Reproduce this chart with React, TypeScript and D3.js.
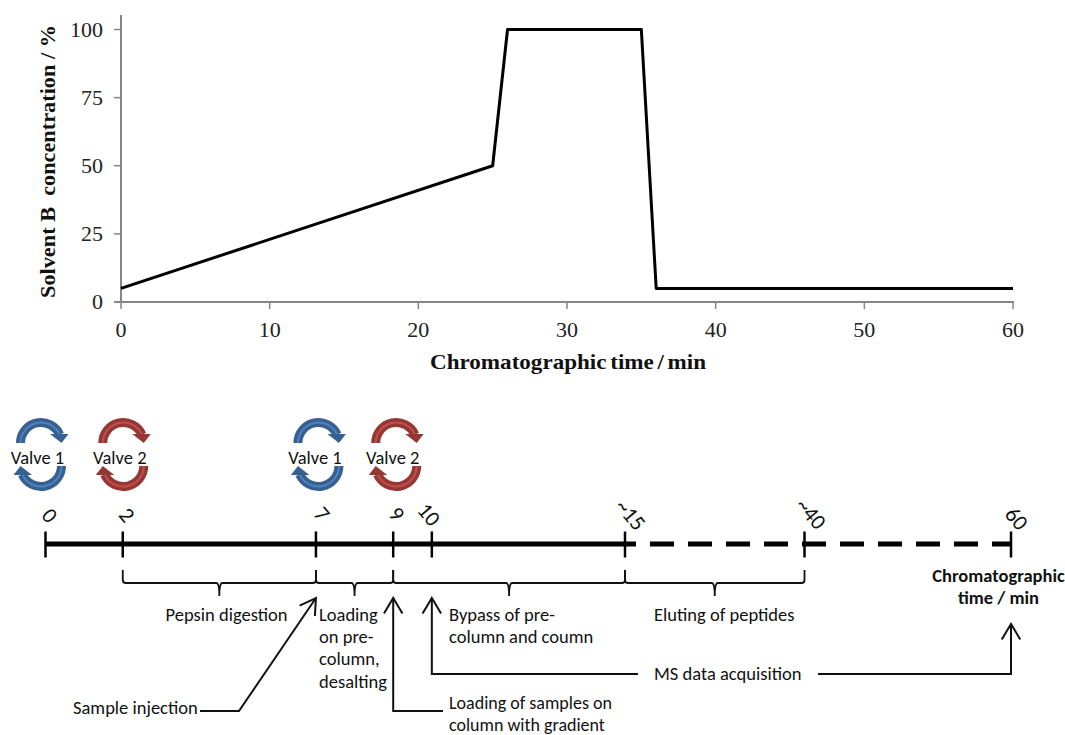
import React from "react";
import * as d3 from "d3";

const gradientTime = [0, 25, 26, 35, 36, 60];
const solventB = [5, 50, 100, 100, 5, 5];
const xTicks = [0, 10, 20, 30, 40, 50, 60];
const yTicks = [0, 25, 50, 75, 100];

const timelineDomain = [0, 15, 40, 60];
const timelineTicks = [0, 2, 7, 9, 10, 15, 40, 60];
const timelineLabels = ["0", "2", "7", "9", "10", "~15", "~40", "60"];
const valves = [
  { time: 0, name: "Valve 1", kind: "blue" },
  { time: 2, name: "Valve 2", kind: "red" },
  { time: 7, name: "Valve 1", kind: "blue" },
  { time: 9, name: "Valve 2", kind: "red" },
];
const braces = [[2, 7], [7, 9], [9, 15], [15, 40]];

const x = d3.scaleLinear().domain([0, 60]).range([121, 1013]);
const y = d3.scaleLinear().domain([0, 100]).range([302, 29.5]);
const t = d3.scaleLinear().domain(timelineDomain).range([45.5, 625, 804.5, 1011]);

const SERIF = "'Liberation Serif', serif";
const SANS = "Carlito, Lato, 'Noto Sans', sans-serif";
const AXIS = "#868686";

const gradLine = d3.line<number>().x((d) => x(d)).y((_, i) => y(solventB[i]));

const COLORS: Record<string, [string, string]> = {
  blue: ["#376092", "#4F81BD"],
  red: ["#953735", "#C0504D"],
};

const valveOffsets = [-4.5, 0.5, 2.5, 3];
const labelOffsets: [number, number][] = [[2.5, 517], [2.5, 516.5], [4.5, 515.5], [2, 515.5], [-4.5, 516], [4, 516], [5, 515], [4, 520]];

function ValveArc({ cx, cy, kind }: { cx: number; cy: number; kind: string }) {
  const [dark, light] = COLORS[kind];
  const outer = 25;
  const inner = 16;
  const end = 1.15;
  const band = d3.arc()({
    innerRadius: inner,
    outerRadius: outer,
    startAngle: -Math.PI / 2,
    endAngle: end,
  } as any) as string;
  const mid = (inner + outer) / 2;
  const core = d3.arc()({
    innerRadius: mid - 1,
    outerRadius: mid + 1,
    startAngle: -Math.PI / 2,
    endAngle: end,
  } as any) as string;
  return (
    <g transform={`translate(${cx},${cy})`}>
      <path d={band} fill={dark} />
      <path d={core} fill={light} />
      <path d="M9,-9 L27.5,-9 L20.5,0 Z" fill={dark} />
    </g>
  );
}

function Valve({ time, name, kind, index }: { time: number; name: string; kind: string; index: number }) {
  const cx = t(time) + valveOffsets[index];
  const cy = 454.5;
  return (
    <g>
      <ValveArc cx={cx} cy={cy - 11.5} kind={kind} />
      <g transform={`rotate(180 ${cx} ${cy})`}>
        <ValveArc cx={cx} cy={cy - 11.5} kind={kind} />
      </g>
      <text x={cx - 3.5} y={463.5} textAnchor="middle" fontFamily={SANS} fontSize={18.5} fill="#111">{name}</text>
    </g>
  );
}

function Brace({ a, b }: { a: number; b: number }) {
  const x0 = t(a), x1 = t(b), m = (x0 + x1) / 2;
  const yTop = 570, yMid = 583, yTip = 596;
  const d = `M${x0},${yTop} V${yMid - 3} Q${x0},${yMid} ${x0 + 3},${yMid} H${m - 3} Q${m},${yMid} ${m},${yTip} Q${m},${yMid} ${m + 3},${yMid} H${x1 - 3} Q${x1},${yMid} ${x1},${yMid - 3} V${yTop}`;
  return <path d={d} fill="none" stroke="#111" strokeWidth={1.8} />;
}

function Arrow({ points }: { points: [number, number][] }) {
  const line = d3.line();
  const n = points.length;
  const [tx, ty] = points[n - 1];
  const [px, py] = points[n - 2];
  const ang = Math.atan2(ty - py, tx - px);
  const len = 18;
  const spread = 0.54;
  const h1: [number, number] = [tx - len * Math.cos(ang - spread), ty - len * Math.sin(ang - spread)];
  const h2: [number, number] = [tx - len * Math.cos(ang + spread), ty - len * Math.sin(ang + spread)];
  return (
    <g fill="none" stroke="#111" strokeWidth={2}>
      <path d={line(points) as string} />
      <path d={line([h1, [tx, ty], h2]) as string} />
    </g>
  );
}

const sansText = { fontFamily: SANS, fontSize: 18.5, fill: "#111" } as const;

export default function App() {
  return (
    <svg width={1065} height={735} style={{ position: "absolute", left: 0, top: 0, background: "#fff" }}>
      {/* Upper chart */}
      <line x1={x(0)} x2={x(0)} y1={15} y2={302} stroke={AXIS} strokeWidth={2} />
      <line x1={114} x2={x(60) + 1} y1={y(0)} y2={y(0)} stroke={AXIS} strokeWidth={2} />
      {yTicks.map((v) => (
        <g key={v}>
          <line x1={114} x2={121} y1={y(v)} y2={y(v)} stroke={AXIS} strokeWidth={1.5} />
          <text x={103} y={y(v) + 7} textAnchor="end" fontFamily={SERIF} fontSize={22} fill="#222">{v}</text>
        </g>
      ))}
      {xTicks.map((v) => (
        <g key={v}>
          <line x1={x(v)} x2={x(v)} y1={302} y2={309} stroke={AXIS} strokeWidth={1.5} />
          <text x={x(v)} y={337} textAnchor="middle" fontFamily={SERIF} fontSize={22} fill="#222">{v}</text>
        </g>
      ))}
      <path d={gradLine(gradientTime) as string} fill="none" stroke="#000" strokeWidth={3} strokeLinejoin="round" />
      <text x={430} y={369} textLength={276} lengthAdjust="spacingAndGlyphs" wordSpacing={-2} fontFamily={SERIF} fontSize={22} fontWeight="bold" fill="#111">Chromatographic time / min</text>
      <text transform="translate(55,298) rotate(-90)" textLength={273} lengthAdjust="spacingAndGlyphs" fontFamily={SERIF} fontSize={20.5} fontWeight="bold" fill="#111" style={{ whiteSpace: "pre" }}>Solvent B  concentration / %</text>

      {/* Valves */}
      {valves.map((v, i) => <Valve key={i} index={i} {...v} />)}

      {/* Timeline */}
      <line x1={t(0)} x2={t(15)} y1={544} y2={544} stroke="#000" strokeWidth={5} />
      <line x1={t(15)} x2={t(60)} y1={544} y2={544} stroke="#000" strokeWidth={5} strokeDasharray="24 14" strokeDashoffset={13} />
      {timelineTicks.map((v, i) => (
        <g key={v}>
          <line x1={t(v)} x2={t(v)} y1={531.5} y2={557.5} stroke="#000" strokeWidth={2.5} />
          <text
            transform={`translate(${t(v) + labelOffsets[i][0]},${labelOffsets[i][1]}) rotate(50)`}
            textAnchor="middle"
            dominantBaseline="middle"
            fontFamily={SANS}
            fontSize={22}
            fill="#111"
          >{timelineLabels[i]}</text>
        </g>
      ))}
      {braces.map(([a, b], i) => <Brace key={i} a={a} b={b} />)}

      {/* Arrows */}
      <Arrow points={[[200, 711], [239, 711], [t(7), 598]]} />
      <Arrow points={[[443, 711], [t(9), 711], [t(9), 598]]} />
      <Arrow points={[[638, 674], [t(10), 674], [t(10), 598]]} />
      <Arrow points={[[818, 674], [t(60), 674], [t(60), 624]]} />

      {/* Annotations */}
      <text x={226.5} y={621} textAnchor="middle" {...sansText}>Pepsin digestion</text>
      <text x={319} y={621} {...sansText}>Loading</text>
      <text x={319} y={643} {...sansText}>on pre-</text>
      <text x={319} y={665} {...sansText}>column,</text>
      <text x={319} y={688} {...sansText}>desalting</text>
      <text x={449} y={621} {...sansText}>Bypass of pre-</text>
      <text x={449} y={643} {...sansText}>column and coumn</text>
      <text x={654} y={621} {...sansText}>Eluting of peptides</text>
      <text x={654} y={680} {...sansText}>MS data acquisition</text>
      <text x={73} y={714} {...sansText}>Sample injection</text>
      <text x={449} y={709.3} {...sansText} fontSize={18}>Loading of samples on</text>
      <text x={449} y={731} {...sansText} fontSize={18}>column with gradient</text>
      <text x={998.5} y={582} textAnchor="middle" {...sansText} fontWeight="bold">Chromatographic</text>
      <text x={998.5} y={604} textAnchor="middle" {...sansText} fontWeight="bold">time / min</text>
    </svg>
  );
}
